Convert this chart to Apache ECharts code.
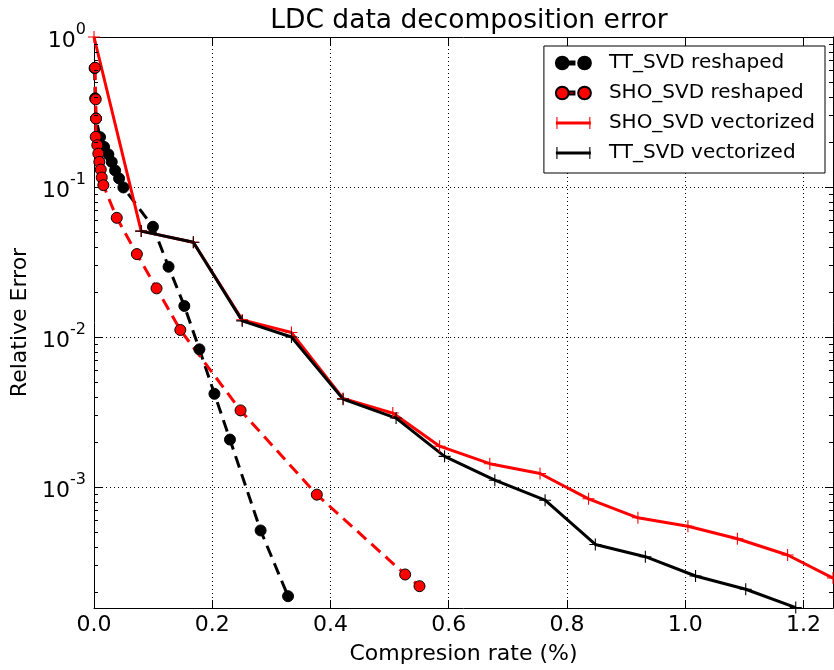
<!DOCTYPE html>
<html>
<head>
<meta charset="utf-8">
<script src="https://cdn.jsdelivr.net/npm/echarts@6/dist/echarts.min.js"></script>
<style>html,body{margin:0;padding:0;background:#fff}#c{width:834px;height:670px}</style>
</head>
<body>
<div id="c"></div>
<script>
// ---- data (x: compression rate %, y: relative error) ----
const ttReshapedX = [0.001, 0.002, 0.0034, 0.0102, 0.017, 0.0243, 0.030, 0.0357, 0.0424, 0.0497, 0.0997, 0.1261, 0.1528, 0.1783, 0.2037, 0.230, 0.2818, 0.3282];
const ttReshapedY = [0.62, 0.39, 0.286, 0.215, 0.185, 0.165, 0.147, 0.129, 0.114, 0.0993, 0.0543, 0.0294, 0.0161, 0.00827, 0.00418, 0.00207, 0.000513, 0.000187];

const shoReshapedX = [0.0017, 0.0029, 0.0034, 0.0029, 0.0056, 0.0073, 0.009, 0.0114, 0.0131, 0.0158, 0.0385, 0.0725, 0.1058, 0.146, 0.2479, 0.3769, 0.5263, 0.5506];
const shoReshapedY = [0.624, 0.384, 0.286, 0.216, 0.190, 0.167, 0.147, 0.1307, 0.1157, 0.1028, 0.0623, 0.0357, 0.0211, 0.01114, 0.00324, 0.000889, 0.000261, 0.000218];

const shoVectorizedX = [0, 0.0798, 0.168, 0.2507, 0.334, 0.4213, 0.5054, 0.5846, 0.6695, 0.7544, 0.8365, 0.920, 1.0046, 1.0883, 1.1732, 1.25];
const shoVectorizedY = [1.0, 0.0508, 0.0428, 0.0130, 0.0107, 0.00389, 0.00311, 0.00187, 0.00143, 0.00123, 0.000834, 0.000623, 0.000547, 0.000452, 0.000352, 0.000247];

const ttVectorizedX = [0.0798, 0.168, 0.2507, 0.334, 0.4213, 0.511, 0.593, 0.678, 0.763, 0.848, 0.9326, 1.0175, 1.1024, 1.187];
const ttVectorizedY = [0.0508, 0.0428, 0.0128, 0.0100, 0.00385, 0.00288, 0.0016, 0.00111, 0.000816, 0.000414, 0.000343, 0.000255, 0.000208, 0.000157];

const seriesNames = ['TT_SVD reshaped', 'SHO_SVD reshaped', 'SHO_SVD vectorized', 'TT_SVD vectorized'];
const xMin = 0, xMax = 1.25, xInterval = 0.2;
const yMin = 1.56e-4, yMax = 1;

// ---- helpers ----
const zip = (xs, ys) => xs.map((x, i) => [x, ys[i]]);
const FONT = 'DejaVu Sans';
const PLUS = 'path://M-0.09,-1H0.09V-0.09H1V0.09H0.09V1H-0.09V0.09H-1V-0.09H-0.09Z';
// legend icons (matplotlib style: marker at both ends)
const ICON_DOTS = 'path://M1,7a6,6 0 1,0 12,0a6,6 0 1,0 -12,0Z M13,5.6H18.5V8.4H13Z M22,7a6,6 0 1,0 12,0a6,6 0 1,0 -12,0Z';
const ICON_PLUS = 'path://M0,5.5H35V8.5H0Z M0.5,1H1.6V13H0.5Z M33.4,1H34.5V13H33.4Z';

// minor tick values at 2..9 x 10^k inside the range
const minorVals = [];
for (let e = -4; e <= 0; e++) {
  for (let m = 2; m <= 9; m++) {
    const v = m * Math.pow(10, e);
    if (v > yMin && v < yMax) minorVals.push([xMin, v]);
  }
}

const yLabel = v => {
  const l = Math.log10(v);
  const e = Math.round(l);
  if (Math.abs(l - e) > 1e-6) return '';
  return '{b|10}{e|' + (e < 0 ? '-' + (-e) : e) + '}';
};
const xLabel = v => {
  const r = v / xInterval;
  if (Math.abs(r - Math.round(r)) > 1e-6) return '';
  return v.toFixed(1);
};

const chart = echarts.init(document.getElementById('c'), null, { renderer: 'canvas' });
chart.setOption({
  animation: false,
  backgroundColor: '#fff',
  textStyle: { fontFamily: FONT },
  title: {
    text: 'LDC data decomposition error',
    left: 464, textAlign: 'center', top: 3,
    textStyle: { fontFamily: FONT, fontSize: 26.5, fontWeight: 'normal', color: '#000' }
  },
  grid: { left: 94, right: 1, top: 37, bottom: 62, containLabel: false },
  legend: {
    orient: 'vertical', right: 9, top: 46,
    padding: [7, 10, 10, 11], itemGap: 10, itemWidth: 35, itemHeight: 14,
    backgroundColor: '#fff', borderColor: '#000', borderWidth: 1,
    textStyle: { fontFamily: FONT, fontSize: 20, color: '#000', lineHeight: 20, padding: [0, 0, 0, 13] },
    data: [
      { name: seriesNames[0], icon: ICON_DOTS },
      { name: seriesNames[1], icon: ICON_DOTS },
      { name: seriesNames[2], icon: ICON_PLUS },
      { name: seriesNames[3], icon: ICON_PLUS }
    ]
  },
  xAxis: [{
    type: 'value', min: xMin, max: xMax, interval: xInterval,
    name: 'Compresion rate (%)', nameLocation: 'middle', nameGap: 35,
    nameTextStyle: { fontFamily: FONT, fontSize: 22, color: '#000' },
    axisLine: { show: true, onZero: false, lineStyle: { color: '#000', width: 1 } },
    axisTick: { show: true, inside: true, length: 8, lineStyle: { color: '#000' } },
    axisLabel: { formatter: xLabel, fontFamily: FONT, fontSize: 22, color: '#000', margin: 6, showMaxLabel: false },
    splitLine: { show: true, lineStyle: { color: '#000', type: [1, 3], width: 1 } }
  }, {
    type: 'value', position: 'top', min: xMin, max: xMax, interval: xInterval,
    axisLine: { show: true, onZero: false, lineStyle: { color: '#000', width: 1 } },
    axisTick: { show: true, inside: true, length: 8, lineStyle: { color: '#000' } },
    axisLabel: { show: false }, splitLine: { show: false }
  }],
  yAxis: [{
    type: 'log', logBase: 10, min: yMin, max: yMax,
    name: 'Relative Error', nameLocation: 'middle', nameGap: 61,
    nameTextStyle: { fontFamily: FONT, fontSize: 22, color: '#000' },
    axisLine: { show: true, onZero: false, lineStyle: { color: '#000', width: 1 } },
    axisTick: { show: true, inside: true, length: 8, lineStyle: { color: '#000' } },
    axisLabel: {
      formatter: yLabel, margin: 8, color: '#000',
      rich: {
        b: { fontFamily: FONT, fontSize: 22, color: '#000', lineHeight: 30, verticalAlign: 'bottom' },
        e: { fontFamily: FONT, fontSize: 16, color: '#000', lineHeight: 30, verticalAlign: 'top' }
      }
    },
    splitLine: { show: true, lineStyle: { color: '#000', type: [1, 3], width: 1 } }
  }, {
    type: 'log', logBase: 10, min: yMin, max: yMax, position: 'right',
    axisLine: { show: true, onZero: false, lineStyle: { color: '#000', width: 1 } },
    axisTick: { show: true, inside: true, length: 8, lineStyle: { color: '#000' } },
    axisLabel: { show: false }, splitLine: { show: false }
  }],
  series: [
    {
      name: seriesNames[0], type: 'line', data: zip(ttReshapedX, ttReshapedY),
      symbol: 'circle', symbolSize: 11, showSymbol: true,
      lineStyle: { color: '#000', width: 3, type: [12, 7] },
      itemStyle: { color: '#000', borderColor: '#000', borderWidth: 1 },
      emphasis: { disabled: true }
    },
    {
      name: seriesNames[1], type: 'line', data: zip(shoReshapedX, shoReshapedY),
      symbol: 'circle', symbolSize: 11, showSymbol: true,
      lineStyle: { color: '#ff0000', width: 3, type: [12, 7] },
      itemStyle: { color: '#ff0000', borderColor: '#000', borderWidth: 1 },
      emphasis: { disabled: true }
    },
    {
      name: seriesNames[2], type: 'line', data: zip(shoVectorizedX, shoVectorizedY),
      symbol: PLUS, symbolSize: 12, showSymbol: true,
      lineStyle: { color: '#ff0000', width: 3 },
      itemStyle: { color: '#ff0000' },
      emphasis: { disabled: true }
    },
    {
      name: seriesNames[3], type: 'line', data: zip(ttVectorizedX, ttVectorizedY),
      symbol: PLUS, symbolSize: 12, showSymbol: true,
      lineStyle: { color: '#000', width: 3 },
      itemStyle: { color: '#000' },
      emphasis: { disabled: true }
    },
    {
      name: 'minorTicks', type: 'custom', data: minorVals, silent: true, z: 10,
      renderItem: (params, api) => {
        const v = api.value(1);
        const l = api.coord([xMin, v]);
        const r = api.coord([xMax, v]);
        const st = { stroke: '#000', lineWidth: 1 };
        return {
          type: 'group', children: [
            { type: 'line', shape: { x1: l[0], y1: Math.round(l[1]) + 0.5, x2: l[0] + 4, y2: Math.round(l[1]) + 0.5 }, style: st },
            { type: 'line', shape: { x1: r[0], y1: Math.round(r[1]) + 0.5, x2: r[0] - 4, y2: Math.round(r[1]) + 0.5 }, style: st }
          ]
        };
      }
    }
  ]
});
</script>
</body>
</html>
